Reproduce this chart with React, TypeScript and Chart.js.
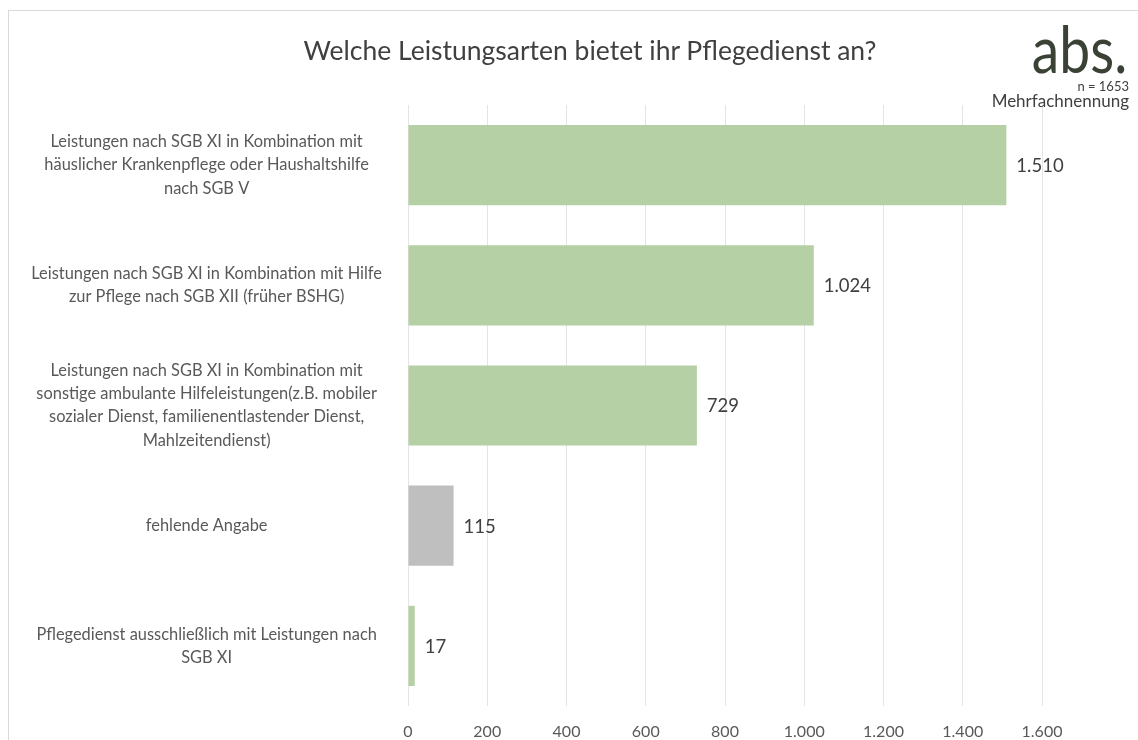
import React, { useEffect, useRef } from "react";
import { Chart, registerables } from "chart.js";

Chart.register(...registerables);

const categories: string[][] = [
  ["Leistungen nach SGB XI in Kombination mit", "häuslicher Krankenpflege oder Haushaltshilfe", "nach SGB V"],
  ["Leistungen nach SGB XI in Kombination mit Hilfe", "zur Pflege nach SGB XII (früher BSHG)"],
  ["Leistungen nach SGB XI in Kombination mit", "sonstige ambulante Hilfeleistungen(z.B. mobiler", "sozialer Dienst, familienentlastender Dienst,", "Mahlzeitendienst)"],
  ["fehlende Angabe"],
  ["Pflegedienst ausschließlich mit Leistungen nach", "SGB XI"],
];
const values: number[] = [1510, 1024, 729, 115, 17];
const barColors: string[] = ["#b4d0a4", "#b4d0a4", "#b4d0a4", "#bfbfbf", "#b4d0a4"];
const axisMin = 0;
const axisMax = 1600;
const axisStep = 200;

const FONT = "Lato, 'Open Sans', sans-serif";

function fmt(v: number): string {
  const s = Math.round(v).toString();
  return s.replace(/\B(?=(\d{3})+(?!\d))/g, ".");
}

const valueLabels = {
  id: "valueLabels",
  afterDatasetsDraw(chart: any) {
    const ctx = chart.ctx;
    const meta = chart.getDatasetMeta(0);
    ctx.save();
    ctx.font = `18.5px ${FONT}`;
    ctx.fillStyle = "#404040";
    ctx.textAlign = "left";
    ctx.textBaseline = "middle";
    meta.data.forEach((bar: any, i: number) => {
      ctx.fillText(fmt(values[i]), bar.x + 10, bar.y + 1);
    });
    ctx.restore();
  },
};

export default function App() {
  const ref = useRef<HTMLCanvasElement | null>(null);

  useEffect(() => {
    document.body.style.overflow = "hidden";
    const canvas = ref.current;
    if (!canvas) return;
    const chart = new Chart(canvas, {
      type: "bar",
      data: {
        labels: categories,
        datasets: [
          {
            data: values,
            backgroundColor: barColors,
            borderWidth: 0,
            categoryPercentage: 1,
            barPercentage: 0.667,
          },
        ],
      },
      options: {
        indexAxis: "y",
        animation: false,
        responsive: false,
        devicePixelRatio: 1,
        layout: { padding: { top: 97, right: 96, left: 0, bottom: 0 } },
        plugins: {
          legend: { display: false },
          tooltip: { enabled: false },
          title: { display: false },
        },
        scales: {
          x: {
            min: axisMin,
            max: axisMax,
            border: { display: false },
            grid: { color: "#e4e4e4", lineWidth: 1, drawTicks: false },
            ticks: {
              stepSize: axisStep,
              padding: 16,
              color: "#595959",
              font: { family: FONT, size: 16 },
              callback: (v: any) => fmt(Number(v)),
            },
            afterFit: (scale: any) => {
              scale.height = 34;
              scale.paddingLeft = 0;
              scale.paddingRight = 0;
            },
          },
          y: {
            border: { display: false },
            grid: { display: false },
            ticks: {
              crossAlign: "center",
              padding: 18,
              color: "#595959",
              font: { family: FONT, size: 16.4, lineHeight: 1.42 },
            },
            afterFit: (scale: any) => {
              scale.width = 400;
              scale.paddingTop = 0;
              scale.paddingBottom = 0;
            },
          },
        },
      },
      plugins: [valueLabels],
    });
    return () => chart.destroy();
  }, []);

  return (
    <div
      style={{
        position: "absolute",
        left: 8,
        top: 8,
        width: 1130,
        height: 732,
        overflow: "hidden",
        background: "#ffffff",
        fontFamily: FONT,
      }}
    >
      <div
        style={{
          position: "absolute",
          left: 0,
          top: 2,
          width: 1300,
          height: 900,
          border: "1px solid #d9d9d9",
          boxSizing: "border-box",
        }}
      />
      <canvas
        ref={ref}
        width={1130}
        height={732}
        style={{ position: "absolute", left: 0, top: 0, width: 1130, height: 732 }}
      />
      <div
        style={{
          position: "absolute",
          left: 582,
          top: 42,
          transform: "translate(-50%, -50%)",
          whiteSpace: "nowrap",
          fontSize: 26.5,
          color: "#404040",
        }}
      >
        Welche Leistungsarten bietet ihr Pflegedienst an?
      </div>
      <div
        style={{
          position: "absolute",
          right: 11,
          top: 8,
          whiteSpace: "nowrap",
          fontSize: 65,
          lineHeight: 1,
          color: "#3a4236",
          transform: "scaleX(0.85)",
          transformOrigin: "right center",
        }}
      >
        abs.
      </div>
      <div
        style={{
          position: "absolute",
          right: 9,
          top: 71,
          whiteSpace: "nowrap",
          fontSize: 13,
          lineHeight: "14px",
          color: "#404040",
          textAlign: "right",
        }}
      >
        n = 1653
      </div>
      <div
        style={{
          position: "absolute",
          right: 9,
          top: 84,
          whiteSpace: "nowrap",
          fontSize: 17,
          lineHeight: "18px",
          color: "#404040",
          textAlign: "right",
        }}
      >
        Mehrfachnennung
      </div>
    </div>
  );
}
